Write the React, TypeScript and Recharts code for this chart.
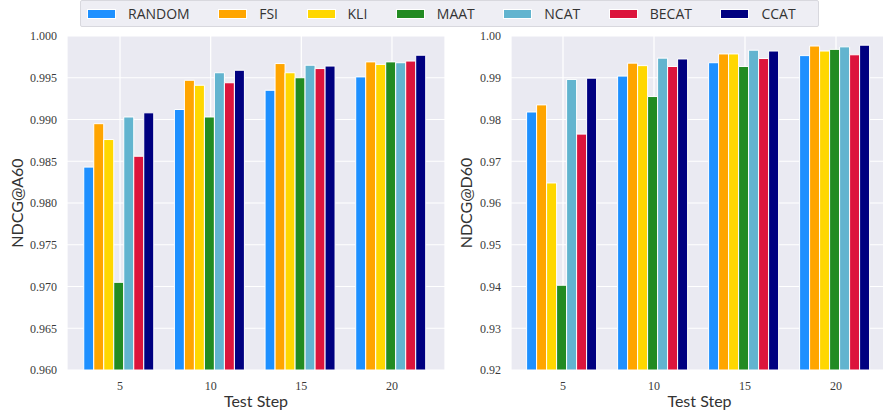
import React from 'react';
import { BarChart, Bar, XAxis, YAxis, CartesianGrid } from 'recharts';

const steps = ['5', '10', '15', '20'];
const methods = ['RANDOM', 'FSI', 'KLI', 'MAAT', 'NCAT', 'BECAT', 'CCAT'];
const colors = ['#1E90FF', '#FFA500', '#FFD700', '#228B22', '#62B4CF', '#DC143C', '#000080'];

// NDCG@A60 per method, over steps 5,10,15,20
const a60Random = [0.9843, 0.9912, 0.9935, 0.9951];
const a60Fsi = [0.9895, 0.9947, 0.9967, 0.9969];
const a60Kli = [0.9876, 0.9941, 0.9956, 0.9966];
const a60Maat = [0.9705, 0.9903, 0.995, 0.9969];
const a60Ncat = [0.9903, 0.9956, 0.9965, 0.9968];
const a60Becat = [0.9856, 0.9944, 0.9961, 0.997];
const a60Ccat = [0.9908, 0.9959, 0.9964, 0.9977];

// NDCG@D60 per method
const d60Random = [0.9818, 0.9904, 0.9936, 0.9953];
const d60Fsi = [0.9835, 0.9935, 0.9957, 0.9976];
const d60Kli = [0.9648, 0.9929, 0.9957, 0.9964];
const d60Maat = [0.9403, 0.9855, 0.9927, 0.9968];
const d60Ncat = [0.9896, 0.9947, 0.9966, 0.9974];
const d60Becat = [0.9765, 0.9927, 0.9946, 0.9955];
const d60Ccat = [0.9899, 0.9945, 0.9964, 0.9978];

const a60Ticks = [0.96, 0.965, 0.97, 0.975, 0.98, 0.985, 0.99, 0.995, 1.0];
const d60Ticks = [0.92, 0.93, 0.94, 0.95, 0.96, 0.97, 0.98, 0.99, 1.0];

const a60Series = [a60Random, a60Fsi, a60Kli, a60Maat, a60Ncat, a60Becat, a60Ccat];
const d60Series = [d60Random, d60Fsi, d60Kli, d60Maat, d60Ncat, d60Becat, d60Ccat];

const buildRows = (series: number[][]) =>
  steps.map((s, i) => {
    const row: Record<string, any> = { step: s };
    methods.forEach((m, j) => {
      row[m] = series[j][i];
    });
    return row;
  });

const a60Data = buildRows(a60Series);
const d60Data = buildRows(d60Series);

const tickStyle = { fontFamily: '"Liberation Serif", serif', fontSize: 12, fill: '#3a3a3a' };
const labelStyle = { fontFamily: 'Lato, sans-serif', fontSize: 16, fill: '#333' };

type PanelProps = {
  data: any[];
  ticks: number[];
  domain: [number, number];
  digits: number;
  yLabel: string;
  width: number;
  padX: number;
  labelOffset: number;
};

const Panel = ({ data, ticks, domain, digits, yLabel, width, padX, labelOffset }: PanelProps) => (
  <BarChart
    width={width}
    height={419}
    data={data}
    margin={{ top: 36, right: 0, bottom: 0, left: 0 }}
    barCategoryGap="10%"
    barGap={0}
  >
    <CartesianGrid fill="#EAEAF2" stroke="#ffffff" strokeWidth={1.2} vertical horizontal />
    <XAxis
      dataKey="step"
      height={49}
      axisLine={false}
      tickLine={false}
      tickSize={0}
      tickMargin={11}
      tick={tickStyle}
      padding={{ left: padX, right: padX }}
      label={{ value: 'Test Step', position: 'insideBottom', offset: 12, style: labelStyle }}
    />
    <YAxis
      width={67}
      domain={domain}
      ticks={ticks}
      type="number"
      allowDataOverflow
      axisLine={false}
      tickLine={false}
      tickSize={0}
      tickMargin={10}
      tick={tickStyle}
      tickFormatter={(v: number) => v.toFixed(digits)}
      label={{
        value: yLabel,
        angle: -90,
        position: 'insideLeft',
        offset: labelOffset,
        style: { ...labelStyle, textAnchor: 'middle' },
      }}
    />
    {methods.map((m, j) => (
      <Bar key={m} dataKey={m} fill={colors[j]} stroke="#ffffff" strokeWidth={1} isAnimationActive={false} />
    ))}
  </BarChart>
);

const Legend = () => (
  <div
    style={{
      position: 'absolute',
      left: 80,
      top: 0,
      width: 739,
      height: 27,
      boxSizing: 'border-box',
      background: '#EEEEF4',
      border: '1px solid #D8D8DE',
      borderRadius: 2,
      display: 'flex',
      alignItems: 'center',
      paddingLeft: 6,
      fontFamily: '"Open Sans", sans-serif',
      fontSize: 14,
      color: '#333',
    }}
  >
    {methods.map((m, j) => (
      <div key={m} style={{ display: 'flex', alignItems: 'center', marginRight: j < methods.length - 1 ? 28.5 : 0 }}>
        <div
          style={{
            width: 29,
            height: 10,
            background: colors[j],
            boxSizing: 'border-box',
            border: '1px solid #fff',
            marginRight: 12,
          }}
        />
        <span style={{ lineHeight: '14px' }}>{m}</span>
      </div>
    ))}
  </div>
);

export default function App() {
  return (
    <div
      style={{
        position: 'absolute',
        left: 0,
        top: 0,
        width: 883,
        height: 419,
        overflow: 'hidden',
        background: '#fff',
      }}
    >
      <div style={{ position: 'absolute', left: 0, top: 0 }}>
        <Panel
          data={a60Data}
          ticks={a60Ticks}
          domain={[0.96, 1.0]}
          digits={3}
          yLabel="NDCG@A60"
          width={445}
          padX={7.7}
          labelOffset={17}
        />
      </div>
      <div style={{ position: 'absolute', left: 444, top: 0 }}>
        <Panel
          data={d60Data}
          ticks={d60Ticks}
          domain={[0.92, 1.0]}
          digits={2}
          yLabel="NDCG@D60"
          width={444}
          padX={6.5}
          labelOffset={22}
        />
      </div>
      <Legend />
    </div>
  );
}
